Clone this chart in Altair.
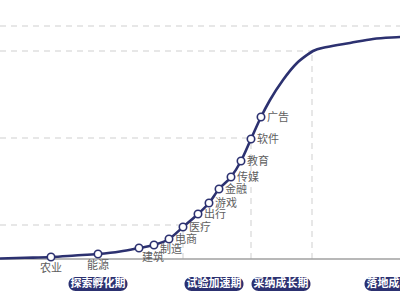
import altair as alt
import pandas as pd

# ---- data ----
sectors = ["农业", "能源", "建筑", "制造", "电商", "医疗", "出行", "游戏", "金融", "传媒", "教育", "软件", "广告"]
sector_x = [51, 98, 139, 154, 169, 183, 198, 209, 219, 231, 241, 251, 261]
sector_y = [2, 5, 11, 14, 20, 32, 45, 56, 70, 82, 98, 120, 142]

curve_x = [0, 25, 51, 75, 98, 120, 139, 154, 169, 183, 198, 209, 219, 231, 241, 251, 261,
           270, 283, 297, 307, 313, 327, 350, 373, 400, 430]
curve_y = [0.5, 1.2, 2, 3.5, 5, 7.5, 11, 14, 20, 32, 45, 56, 70, 82, 98, 120, 142,
           159, 179, 196, 204, 208, 212, 216, 220, 222, 224]

guide_levels = [34, 121, 208, 233]
guide_ends = [183, 251, 312, 430]
vguide_x = [183, 251, 312]
vguide_top = [34, 121, 208]

phases = ["探索孵化期", "试验加速期", "采纳成长期", "落地成熟期"]
phase_x = [98, 214, 281, 394]

# ---- styling ----
NAVY = "#2c3170"
FONT = "Noto Sans CJK SC"
W, H = 400, 300
xs = alt.Scale(domain=[0, W], nice=False, zero=False)
ys = alt.Scale(domain=[-41, 259], nice=False, zero=False)

curve_df = pd.DataFrame({"x": curve_x, "y": curve_y})
pts_df = pd.DataFrame({"name": sectors, "x": sector_x, "y": sector_y})
hg_df = pd.DataFrame({"x0": [0] * len(guide_levels), "x1": guide_ends, "y": guide_levels})
vg_df = pd.DataFrame({"x": vguide_x, "y0": [0] * len(vguide_x), "y1": vguide_top})
ph_df = pd.DataFrame({"name": phases, "x": phase_x})
base_df = pd.DataFrame({"x0": [0], "x1": [430], "y": [0]})

dash = [6, 5]
hguides = alt.Chart(hg_df).mark_rule(color="#cfcfcf", strokeWidth=1, strokeDash=dash, clip=True).encode(
    x=alt.X("x0:Q", scale=xs, axis=None), x2="x1:Q", y=alt.Y("y:Q", scale=ys, axis=None))
vguides = alt.Chart(vg_df).mark_rule(color="#cfcfcf", strokeWidth=1, strokeDash=dash, clip=True).encode(
    x=alt.X("x:Q", scale=xs, axis=None), y=alt.Y("y0:Q", scale=ys, axis=None), y2="y1:Q")
baseline = alt.Chart(base_df).mark_rule(color="#a0a0a0", strokeWidth=1.5, clip=True).encode(
    x=alt.X("x0:Q", scale=xs, axis=None), x2="x1:Q", y=alt.Y("y:Q", scale=ys, axis=None))

line = alt.Chart(curve_df).mark_line(color=NAVY, strokeWidth=2.6, interpolate="monotone", clip=True).encode(
    x=alt.X("x:Q", scale=xs, axis=None), y=alt.Y("y:Q", scale=ys, axis=None), order="x:Q")

points = alt.Chart(pts_df).mark_point(shape="circle", filled=True, fill="white", stroke=NAVY,
                                      strokeWidth=1.6, size=55, opacity=1).encode(
    x=alt.X("x:Q", scale=xs, axis=None), y=alt.Y("y:Q", scale=ys, axis=None))

# label placement styles (dx, dy, align)
label_styles = [
    (["农业", "能源"], 0, 12, "center"),
    (["建筑"], 3, 10, "left"),
    (["制造"], 6, 5, "left"),
    (["电商", "医疗", "出行", "游戏", "金融", "传媒", "教育", "软件", "广告"], 6, 1, "left"),
]
label_layers = []
for names, dx, dy, align in label_styles:
    label_layers.append(
        alt.Chart(pts_df).transform_filter(alt.FieldOneOfPredicate(field="name", oneOf=names))
        .mark_text(font=FONT, fontSize=11, color="#606060", dx=dx, dy=dy, align=align, baseline="middle")
        .encode(x=alt.X("x:Q", scale=xs, axis=None), y=alt.Y("y:Q", scale=ys, axis=None), text="name:N")
    )

boxes = alt.Chart(ph_df).transform_calculate(
    xa="datum.x - 29.5", xb="datum.x + 29.5", ya="-18", yb="-32"
).mark_rect(color=NAVY, cornerRadius=7, clip=True).encode(
    x=alt.X("xa:Q", scale=xs, axis=None), x2="xb:Q",
    y=alt.Y("ya:Q", scale=ys, axis=None), y2="yb:Q")
box_text = alt.Chart(ph_df).transform_calculate(yc="-25").mark_text(
    font=FONT, fontSize=11, fontWeight="bold", color="white", align="center", baseline="middle", clip=True
).encode(x=alt.X("x:Q", scale=xs, axis=None), y=alt.Y("yc:Q", scale=ys, axis=None), text="name:N")

chart = alt.layer(hguides, vguides, baseline, line, points, *label_layers, boxes, box_text).properties(
    width=W, height=H, padding=0, autosize=alt.AutoSizeParams(type="none"), background="white"
).configure_view(stroke=None)

chart.save("out.html", embed_options={"renderer": "svg", "actions": False})
